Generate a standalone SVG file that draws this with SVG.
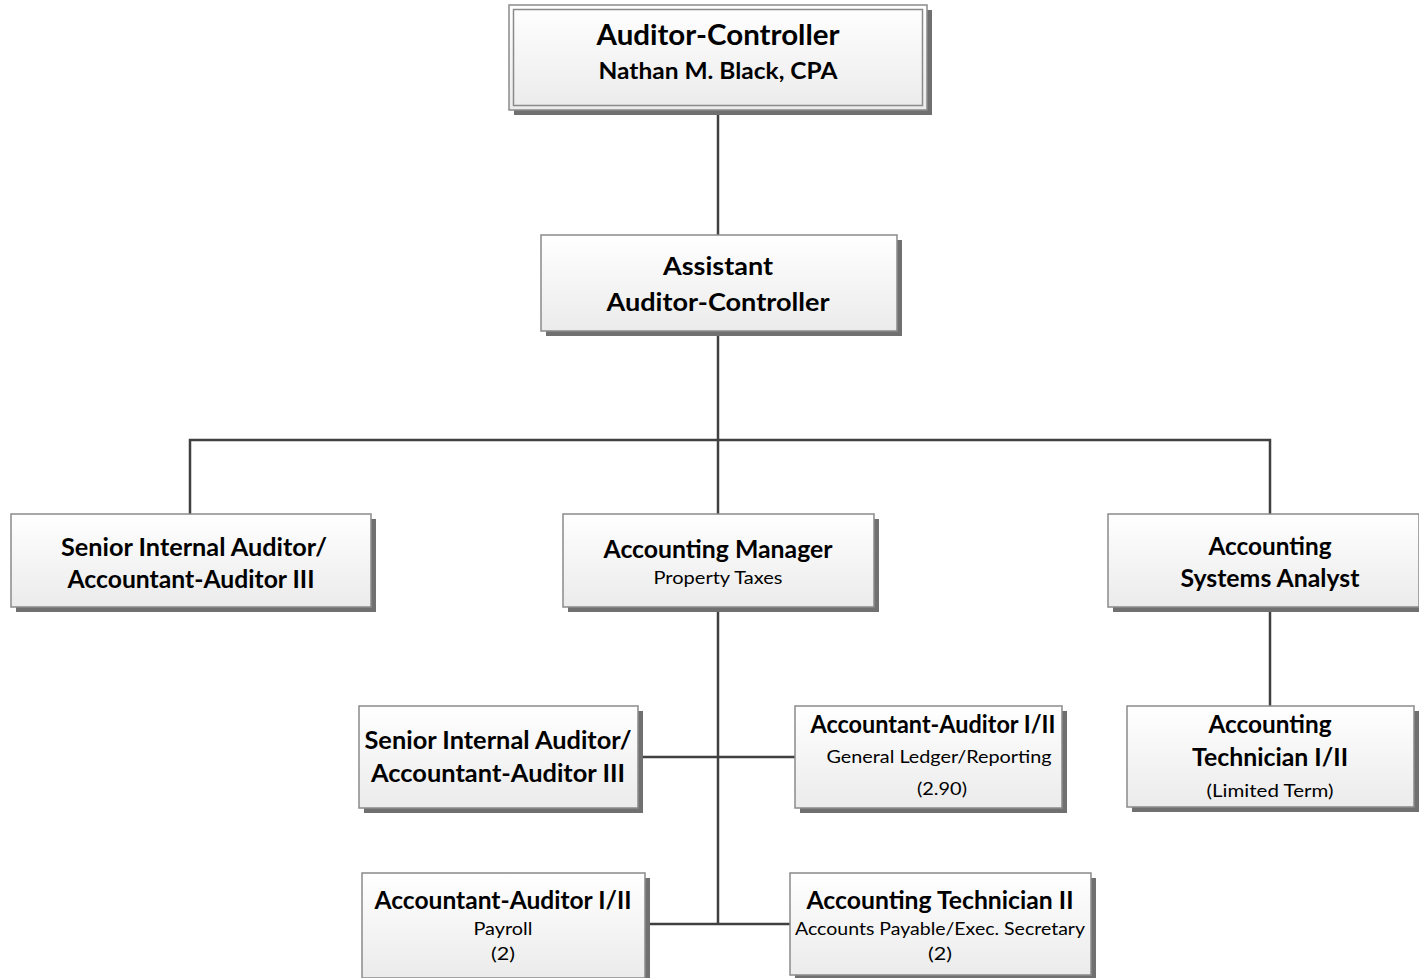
<svg xmlns="http://www.w3.org/2000/svg" width="1419" height="978" viewBox="0 0 1419 978">
  <defs>
    <linearGradient id="boxFill" x1="0" y1="0" x2="0" y2="1">
      <stop offset="0" stop-color="#ffffff"/>
      <stop offset="1" stop-color="#ebebeb"/>
    </linearGradient>
    <style>
      .shadow { fill: #707070; }
      .box { fill: url(#boxFill); stroke: #8a8a8a; stroke-width: 1.5; }
      .inner { fill: none; stroke: #8a8a8a; stroke-width: 1.5; }
      .link { fill: none; stroke: #404040; stroke-width: 2.5; }
      text { font-family: Lato, "Open Sans", "Liberation Sans", sans-serif; fill: #000; text-anchor: middle; }
      .big { font-size: 28px; font-weight: bold; }
      .name { font-size: 23px; font-weight: bold; }
      .title { font-size: 25px; font-weight: bold; }
      .sub { font-size: 17.5px; font-weight: normal; }
    </style>
  </defs>
  <rect width="1419" height="978" fill="#ffffff"/>

  <!-- reporting lines -->
  <g id="connectors">
    <path class="link" d="M718 110 V235"/>
    <path class="link" d="M718 331 V514"/>
    <path class="link" d="M190 514 V440 H1270 V514"/>
    <path class="link" d="M718 607 V924"/>
    <path class="link" d="M638 757 H795"/>
    <path class="link" d="M645 924 H790"/>
    <path class="link" d="M1270 607 V706"/>
  </g>

  <g id="auditor-controller">
    <rect class="shadow" x="514" y="10" width="418" height="105"/>
    <rect class="box" x="509" y="5" width="418" height="105"/>
    <rect class="inner" x="513.5" y="9.5" width="409" height="96"/>
    <text class="big" x="718" y="45" textLength="243" lengthAdjust="spacingAndGlyphs">Auditor-Controller</text>
    <text class="name" x="718" y="79" textLength="239" lengthAdjust="spacingAndGlyphs">Nathan M. Black, CPA</text>
  </g>

  <g id="assistant-auditor-controller">
    <rect class="shadow" x="546" y="240" width="356" height="96"/>
    <rect class="box" x="541" y="235" width="356" height="96"/>
    <text class="title" x="718" y="275" textLength="110" lengthAdjust="spacingAndGlyphs">Assistant</text>
    <text class="title" x="718" y="311" textLength="223" lengthAdjust="spacingAndGlyphs">Auditor-Controller</text>
  </g>

  <g id="senior-internal-auditor-1">
    <rect class="shadow" x="16" y="519" width="360" height="93"/>
    <rect class="box" x="11" y="514" width="360" height="93"/>
    <text class="title" x="194" y="556" textLength="266" lengthAdjust="spacingAndGlyphs">Senior Internal Auditor/</text>
    <text class="title" x="191" y="588" textLength="247" lengthAdjust="spacingAndGlyphs">Accountant-Auditor III</text>
  </g>

  <g id="accounting-manager">
    <rect class="shadow" x="568" y="519" width="311" height="93"/>
    <rect class="box" x="563" y="514" width="311" height="93"/>
    <text class="title" x="718" y="558" textLength="229" lengthAdjust="spacingAndGlyphs">Accounting Manager</text>
    <text class="sub" x="718" y="584" textLength="129" lengthAdjust="spacingAndGlyphs">Property Taxes</text>
  </g>

  <g id="accounting-systems-analyst">
    <rect class="shadow" x="1113" y="519" width="311" height="93"/>
    <rect class="box" x="1108" y="514" width="311" height="93"/>
    <text class="title" x="1270" y="555" textLength="123" lengthAdjust="spacingAndGlyphs">Accounting</text>
    <text class="title" x="1270" y="587" textLength="179" lengthAdjust="spacingAndGlyphs">Systems Analyst</text>
  </g>

  <g id="senior-internal-auditor-2">
    <rect class="shadow" x="364" y="711" width="279" height="102"/>
    <rect class="box" x="359" y="706" width="279" height="102"/>
    <text class="title" x="498" y="749" textLength="267" lengthAdjust="spacingAndGlyphs">Senior Internal Auditor/</text>
    <text class="title" x="498" y="782" textLength="254" lengthAdjust="spacingAndGlyphs">Accountant-Auditor III</text>
  </g>

  <g id="accountant-auditor-gl">
    <rect class="shadow" x="800" y="711" width="267" height="102"/>
    <rect class="box" x="795" y="706" width="267" height="102"/>
    <text class="title" x="933" y="733" textLength="245" lengthAdjust="spacingAndGlyphs">Accountant-Auditor I/II</text>
    <text class="sub" x="939" y="763" textLength="225" lengthAdjust="spacingAndGlyphs">General Ledger/Reporting</text>
    <text class="sub" x="942" y="795" textLength="50" lengthAdjust="spacingAndGlyphs">(2.90)</text>
  </g>

  <g id="accounting-technician-limited">
    <rect class="shadow" x="1132" y="711" width="287" height="101"/>
    <rect class="box" x="1127" y="706" width="287" height="101"/>
    <text class="title" x="1270" y="733" textLength="123" lengthAdjust="spacingAndGlyphs">Accounting</text>
    <text class="title" x="1270" y="766" textLength="156" lengthAdjust="spacingAndGlyphs">Technician I/II</text>
    <text class="sub" x="1270" y="797" textLength="127" lengthAdjust="spacingAndGlyphs">(Limited Term)</text>
  </g>

  <g id="accountant-auditor-payroll">
    <rect class="shadow" x="367" y="878" width="283" height="105"/>
    <rect class="box" x="362" y="873" width="283" height="105"/>
    <text class="title" x="503" y="909" textLength="257" lengthAdjust="spacingAndGlyphs">Accountant-Auditor I/II</text>
    <text class="sub" x="503" y="935" textLength="59" lengthAdjust="spacingAndGlyphs">Payroll</text>
    <text class="sub" x="503" y="960" textLength="24" lengthAdjust="spacingAndGlyphs">(2)</text>
  </g>

  <g id="accounting-technician-ap">
    <rect class="shadow" x="795" y="878" width="301" height="102"/>
    <rect class="box" x="790" y="873" width="301" height="102"/>
    <text class="title" x="940" y="909" textLength="267" lengthAdjust="spacingAndGlyphs">Accounting Technician II</text>
    <text class="sub" x="940" y="935" textLength="290" lengthAdjust="spacingAndGlyphs">Accounts Payable/Exec. Secretary</text>
    <text class="sub" x="940" y="960" textLength="24" lengthAdjust="spacingAndGlyphs">(2)</text>
  </g>
</svg>
